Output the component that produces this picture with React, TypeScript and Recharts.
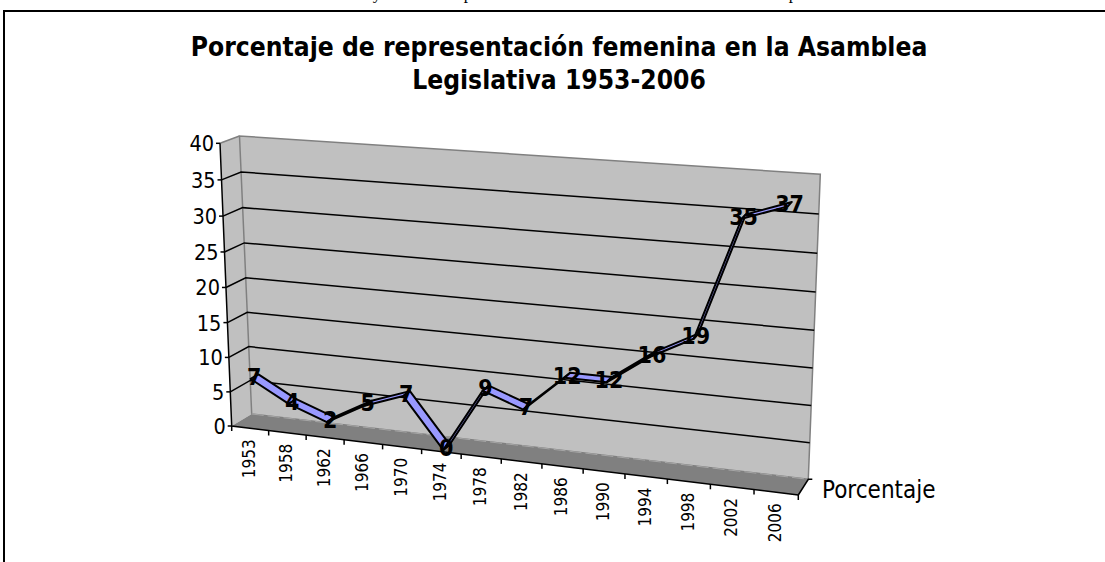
import { LineChart, Line, XAxis, YAxis, CartesianGrid } from 'recharts'

const years = ['1953', '1958', '1962', '1966', '1970', '1974', '1978', '1982', '1986', '1990', '1994', '1998', '2002', '2006']
const percentages = [7, 4, 2, 5, 7, 0, 9, 7, 12, 12, 16, 19, 35, 37]
const yTicks = [0, 5, 10, 15, 20, 25, 30, 35, 40]
const seriesName = 'Porcentaje'
const titleLines = ['Porcentaje de representación femenina en la Asamblea', 'Legislativa 1953-2006']
// bits of the line of text cropped off above the chart
const croppedGlyphs = [
  { text: 'y', x: 377 },
  { text: 'p', x: 468 },
  { text: 'p', x: 793 },
]

const chartData = years.map((year, i) => ({ year, value: percentages[i] }))

// plot rectangle recharts lays out in, every mark is then projected onto the 3D box
const WIDTH = 1105
const HEIGHT = 562
const PLOT = { left: 100, top: 100, right: 905, bottom: 462 }
const HALF_STEP = (PLOT.right - PLOT.left) / years.length / 2

type Pt = [number, number]

// square to quad homography, corners are BL, BR, TR, TL
function makeHomography(q: Pt[]) {
  const [[x0, y0], [x1, y1], [x2, y2], [x3, y3]] = q
  const dx1 = x1 - x2, dx2 = x3 - x2, sx = x0 - x1 + x2 - x3
  const dy1 = y1 - y2, dy2 = y3 - y2, sy = y0 - y1 + y2 - y3
  const den = dx1 * dy2 - dx2 * dy1
  const g = (sx * dy2 - dx2 * sy) / den
  const h = (dx1 * sy - sx * dy1) / den
  const a = x1 - x0 + g * x1, b = x3 - x0 + h * x3
  const d = y1 - y0 + g * y1, e = y3 - y0 + h * y3
  return (u: number, v: number): Pt => {
    const w = g * u + h * v + 1
    return [(a * u + b * v + x0) / w, (d * u + e * v + y0) / w]
  }
}

const front = makeHomography([[231.7, 426], [798.3, 495], [810.8, 185.3], [220, 143.3]])
const back = makeHomography([[251.7, 414], [808.3, 479.3], [820.3, 174.3], [239.5, 136]])

function project(u: number, v: number, depth: number): Pt {
  const f = front(u, v)
  const b = back(u, v)
  return [f[0] + (b[0] - f[0]) * depth, f[1] + (b[1] - f[1]) * depth]
}

const toU = (x: number) => (x - PLOT.left) / (PLOT.right - PLOT.left)
const toV = (y: number) => (PLOT.bottom - y) / (PLOT.bottom - PLOT.top)
const poly = (pts: Pt[]) => pts.map((p) => p.join(',')).join(' ')

const RIBBON_NEAR = 0.12
const RIBBON_FAR = 0.52
const LABEL_DEPTH = 0.3
const FONT = '"DejaVu Sans Condensed", "DejaVu Sans", sans-serif'

function Backdrop() {
  return (
    <svg width={WIDTH} height={HEIGHT} style={{ position: 'absolute', left: 0, top: 0 }}>
      {croppedGlyphs.map((g) => (
        <text key={g.x} x={g.x} y={-1} textAnchor="middle" fontFamily='"Liberation Serif", serif' fontSize={17} fill="#000">
          {g.text}
        </text>
      ))}
      <path d={`M4 562 V11 H${WIDTH}`} fill="none" stroke="#000" strokeWidth={2} />
      {titleLines.map((line, i) => (
        <text key={line} x={559} y={56 + i * 33} textAnchor="middle" fontFamily={FONT} fontWeight="bold" fontSize={26.2} fill="#000">
          {line}
        </text>
      ))}
      <polygon points={poly([project(0, 0, 0), project(0, 0, 1), project(0, 1, 1), project(0, 1, 0)])} fill="#C0C0C0" />
      <polygon points={poly([project(0, 0, 1), project(1, 0, 1), project(1, 1, 1), project(0, 1, 1)])} fill="#C0C0C0" stroke="#808080" strokeWidth={1.5} />
      <polygon points={poly([project(0, 0, 0), project(1, 0, 0), project(1, 0, 1), project(0, 0, 1)])} fill="#808080" />
      <polyline points={poly([project(0, 0, 1), project(1, 0, 1)])} stroke="#A6A6A6" strokeDasharray="12 4" fill="none" />
      <polyline points={poly([project(0, 1, 0), project(0, 1, 1)])} stroke="#808080" strokeWidth={1.5} fill="none" />
      <polyline points={poly([project(0, 1, 0), project(0, 0, 0), project(1, 0, 0)])} stroke="#000" strokeWidth={1.5} fill="none" />
      <polyline points={poly([project(1, 0, 0), project(1, 0, 1), [project(1, 0, 1)[0] + 4, project(1, 0, 1)[1]]])} stroke="#000" strokeWidth={1.5} fill="none" />
      <text x={822} y={498} fontFamily={FONT} fontSize={24} fill="#000">{seriesName}</text>
    </svg>
  )
}

function GridLine(props: any) {
  const v = toV(props.y1)
  if (v < 0.01 || v > 0.99) return <g key={props.key} />
  return (
    <polyline
      key={props.key}
      points={poly([project(0, v, 0), project(0, v, 1), project(1, v, 1)])}
      fill="none"
      stroke="#000"
      strokeWidth={1.5}
    />
  )
}

function YearTick(props: any) {
  const u = toU(props.x)
  const step = 1 / years.length
  const [ax, ay] = project(u, 0, 0)
  const marks = props.index === years.length - 1 ? [u - step / 2, u + step / 2] : [u - step / 2]
  return (
    <g>
      {marks.map((m) => {
        const [mx, my] = project(m, 0, 0)
        return <line key={m} x1={mx} y1={my} x2={mx} y2={my + 5} stroke="#000" strokeWidth={1.5} />
      })}
      <text
        transform={`translate(${ax + 5},${ay + 11}) rotate(-90)`}
        textAnchor="end"
        fontFamily={FONT}
        fontSize={17}
        fill="#000"
      >
        {props.payload.value}
      </text>
    </g>
  )
}

function PercentTick(props: any) {
  const [ax, ay] = project(0, toV(props.y), 0)
  return (
    <g>
      <line x1={ax - 4} y1={ay} x2={ax} y2={ay} stroke="#000" strokeWidth={1.5} />
      <text x={ax - 6} y={ay + 8} textAnchor="end" fontFamily={FONT} fontSize={21.5} fill="#000">
        {props.payload.value}
      </text>
    </g>
  )
}

// one ribbon segment per gap, drawn from the points the Line computed
function RibbonDot(props: any) {
  const next = props.points?.[props.index + 1]
  if (!next) return <g key={props.key} />
  const a = { u: toU(props.cx), v: toV(props.cy) }
  const b = { u: toU(next.x), v: toV(next.y) }
  const quad = [
    project(a.u, a.v, RIBBON_NEAR),
    project(b.u, b.v, RIBBON_NEAR),
    project(b.u, b.v, RIBBON_FAR),
    project(a.u, a.v, RIBBON_FAR),
  ]
  return <polygon key={props.key} points={poly(quad)} fill="#9999FF" stroke="#000" strokeWidth={2} strokeLinejoin="round" />
}

function PointLabel(props: any) {
  const [x, y] = project(toU(props.x), toV(props.y), LABEL_DEPTH)
  return (
    <text x={x} y={y + 8} textAnchor="middle" fontFamily={FONT} fontWeight="bold" fontSize={23} fill="#000">
      {props.value}
    </text>
  )
}

export default function App() {
  return (
    <div style={{ position: 'absolute', left: 0, top: 0, width: WIDTH, height: HEIGHT, overflow: 'hidden', background: '#fff' }}>
      <Backdrop />
      <div style={{ position: 'absolute', left: 0, top: 0 }}>
        <LineChart
          width={WIDTH}
          height={HEIGHT}
          data={chartData}
          margin={{ top: PLOT.top, right: WIDTH - PLOT.right, bottom: HEIGHT - PLOT.bottom - 30, left: PLOT.left - 60 }}
        >
          <CartesianGrid horizontal={GridLine} vertical={false} />
          <XAxis
            dataKey="year"
            height={30}
            padding={{ left: HALF_STEP, right: HALF_STEP }}
            interval={0}
            axisLine={false}
            tickLine={false}
            tick={YearTick}
          />
          <YAxis width={60} domain={[0, 40]} ticks={yTicks} axisLine={false} tickLine={false} tick={PercentTick} />
          <Line dataKey="value" stroke="none" dot={RibbonDot} label={PointLabel} isAnimationActive={false} />
        </LineChart>
      </div>
    </div>
  )
}
